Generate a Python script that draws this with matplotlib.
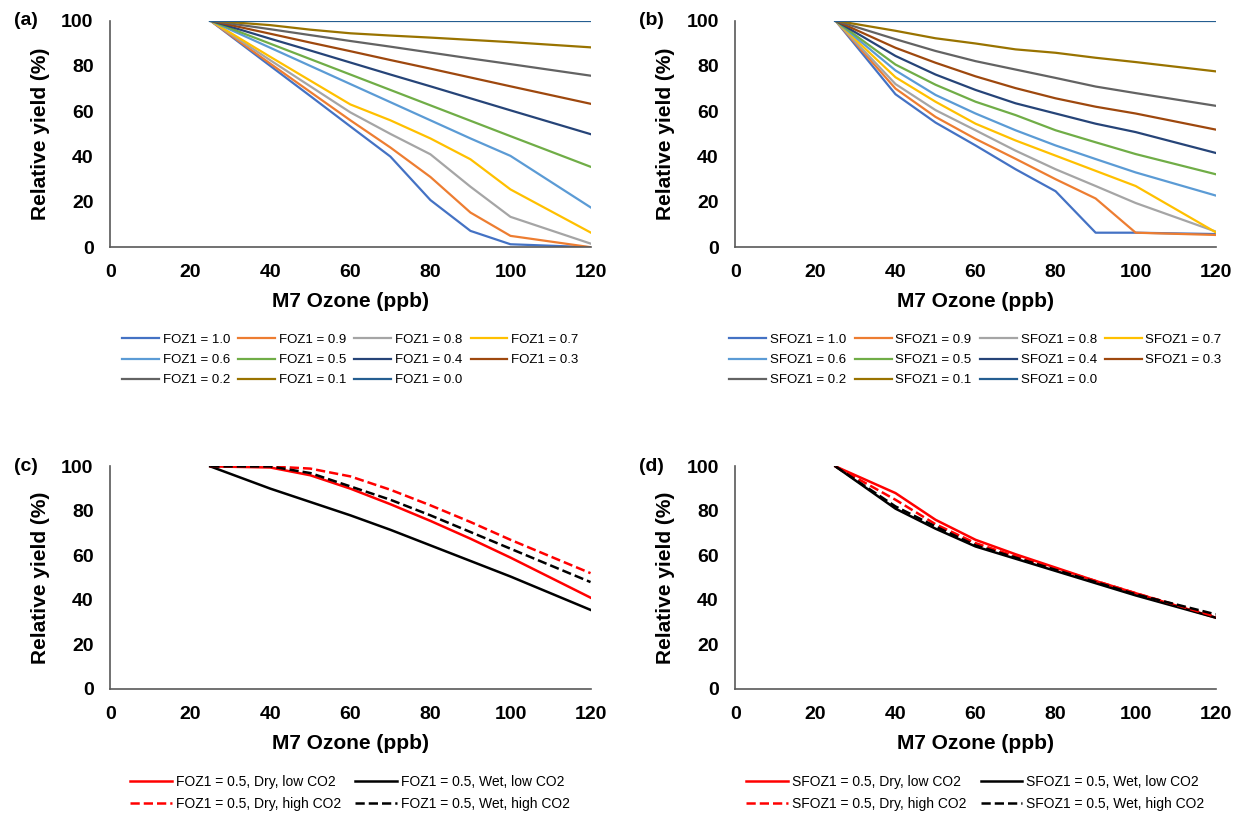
import matplotlib
matplotlib.use('Agg')
import matplotlib.pyplot as plt

plt.rcParams['font.family'] = ['Liberation Sans', 'DejaVu Sans']

# 横轴 (ppb)
x_a = [25, 40, 50, 60, 70, 80, 90, 100, 120]

labels_a = ['FOZ1 = 1.0', 'FOZ1 = 0.9', 'FOZ1 = 0.8', 'FOZ1 = 0.7', 'FOZ1 = 0.6', 'FOZ1 = 0.5',
            'FOZ1 = 0.4', 'FOZ1 = 0.3', 'FOZ1 = 0.2', 'FOZ1 = 0.1', 'FOZ1 = 0.0']
labels_b = ['S' + s for s in labels_a]
colors = ['#4472C4', '#ED7D31', '#A5A5A5', '#FFC000', '#5B9BD5', '#70AD47',
          '#264478', '#9E480E', '#636363', '#997300', '#255E91']

ya = [
    [100, 80, 66.7, 53.3, 40, 20.8, 7.2, 1.3, 0],
    [100, 81, 68.5, 56, 44, 31, 15.3, 5, 0],
    [100, 82.5, 71, 59.5, 50, 41, 26.7, 13.4, 1.6],
    [100, 84, 73.5, 63, 56, 48, 38.8, 25.5, 6.5],
    [100, 88, 80, 72, 64, 56, 48, 40.3, 17.6],
    [100, 89.8, 83, 76.2, 69.4, 62.6, 55.8, 49, 35.5],
    [100, 92, 86.8, 81.5, 76.2, 71, 65.7, 60.4, 49.9],
    [100, 94.2, 90.3, 86.5, 82.6, 78.8, 74.9, 71, 63.3],
    [100, 96.2, 93.6, 91, 88.5, 85.9, 83.3, 80.8, 75.7],
    [100, 98, 96, 94.4, 93.4, 92.5, 91.5, 90.5, 88.2],
    [100, 100, 100, 100, 100, 100, 100, 100, 100],
]
yb = [
    [100, 67.5, 55, 44.9, 34.4, 24.7, 6.4, 6.4, 5.8],
    [100, 70, 57.5, 47.8, 39, 30, 21.5, 6.4, 5.4],
    [100, 72, 60.5, 51.6, 42.6, 34.4, 27, 19.5, 6.9],
    [100, 75, 64.2, 54.5, 47.1, 40.4, 33.7, 27, 6.6],
    [100, 78, 67.2, 59, 51.6, 44.9, 38.9, 33, 22.8],
    [100, 80.6, 71.7, 64.2, 58.3, 51.6, 46.3, 41.1, 32.2],
    [100, 84.4, 76.2, 69.4, 63.5, 59, 54.5, 50.8, 41.6],
    [100, 88, 81.4, 75.4, 70.2, 65.7, 62, 59, 51.9],
    [100, 91.8, 86.6, 82.1, 78.4, 74.7, 70.9, 68, 62.4],
    [100, 95.5, 92.2, 89.9, 87.3, 85.8, 83.6, 81.7, 77.6],
    [100, 100, 100, 100, 100, 100, 100, 100, 100],
]

x_cd = [25, 40, 50, 60, 70, 80, 90, 100, 120]
labels_c = ['FOZ1 = 0.5, Dry, low CO2', 'FOZ1 = 0.5, Wet, low CO2',
            'FOZ1 = 0.5, Dry, high CO2', 'FOZ1 = 0.5, Wet, high CO2']
labels_d = ['S' + s for s in labels_c]
yc = [
    [100, 99.5, 96, 90, 83, 75.5, 67.5, 59, 41],
    [100, 90, 84, 78, 71.5, 64.5, 57.5, 50.5, 35.5],
    [100, 100, 99, 95.5, 89.5, 82.5, 75, 67, 52],
    [100, 100, 97, 91, 85, 78, 70.5, 63, 48],
]
yd = [
    [100, 88, 76, 67, 60.5, 54.5, 48.5, 43, 32],
    [100, 81, 72, 64, 58.5, 53, 47.5, 42, 32],
    [100, 85, 74, 65.5, 59.5, 54, 48.5, 43, 32.5],
    [100, 82, 73, 64.5, 59, 53.5, 48, 42.5, 33.5],
]
styles_cd = [('red', '-'), ('black', '-'), ('red', '--'), ('black', '--')]

fig = plt.figure(figsize=(12.38, 8.24), dpi=100)
pos = {'a': [0.089, 0.70, 0.388, 0.275], 'b': [0.594, 0.70, 0.388, 0.275],
       'c': [0.089, 0.164, 0.388, 0.27], 'd': [0.594, 0.164, 0.388, 0.27]}


def style(ax, tag):
    ax.set_xlim(0, 120)
    ax.set_ylim(0, 100)
    ax.set_xticks(range(0, 121, 20))
    ax.set_yticks(range(0, 101, 20))
    for s in ['top', 'right']:
        ax.spines[s].set_visible(False)
    for s in ['left', 'bottom']:
        ax.spines[s].set_color('#595959')
        ax.spines[s].set_linewidth(1.2)
    ax.tick_params(length=0, pad=12, labelsize=14)
    for t in ax.get_xticklabels() + ax.get_yticklabels():
        t.set_fontweight('bold')
    ax.set_xlabel('M7 Ozone (ppb)', fontsize=15, fontweight='bold', labelpad=8)
    ax.set_ylabel('Relative yield (%)', fontsize=15, fontweight='bold', labelpad=8)
    ax.text(-0.2, 1.0, '(' + tag + ')', transform=ax.transAxes, fontsize=14,
            fontweight='bold', va='center')


# row-major legend order
order_a = [0, 4, 8, 1, 5, 9, 2, 6, 10, 3, 7]
order_c = [0, 2, 1, 3]

for tag, ys, labs in [('a', ya, labels_a), ('b', yb, labels_b)]:
    ax = fig.add_axes(pos[tag])
    lines = []
    for y, c, l in zip(ys, colors, labs):
        lines += ax.plot(x_a, y, color=c, lw=1.6, label=l)
    style(ax, tag)
    ax.legend([lines[i] for i in order_a], [labs[i] for i in order_a],
              ncol=4, loc='upper center', bbox_to_anchor=(0.5, -0.33), frameon=False,
              fontsize=9.5, handlelength=2.8, columnspacing=0.6, handletextpad=0.3,
              labelspacing=0.6)

for tag, ys, labs in [('c', yc, labels_c), ('d', yd, labels_d)]:
    ax = fig.add_axes(pos[tag])
    lines = []
    for y, (c, ls), l in zip(ys, styles_cd, labs):
        lines += ax.plot(x_cd, y, color=c, ls=ls, lw=1.8, label=l)
    style(ax, tag)
    ax.legend([lines[i] for i in order_c], [labs[i] for i in order_c],
              ncol=2, loc='upper center', bbox_to_anchor=(0.5, -0.33), frameon=False,
              fontsize=10, handlelength=3, columnspacing=1.0, handletextpad=0.3,
              labelspacing=0.6)

fig.savefig('out.png', dpi=100)
